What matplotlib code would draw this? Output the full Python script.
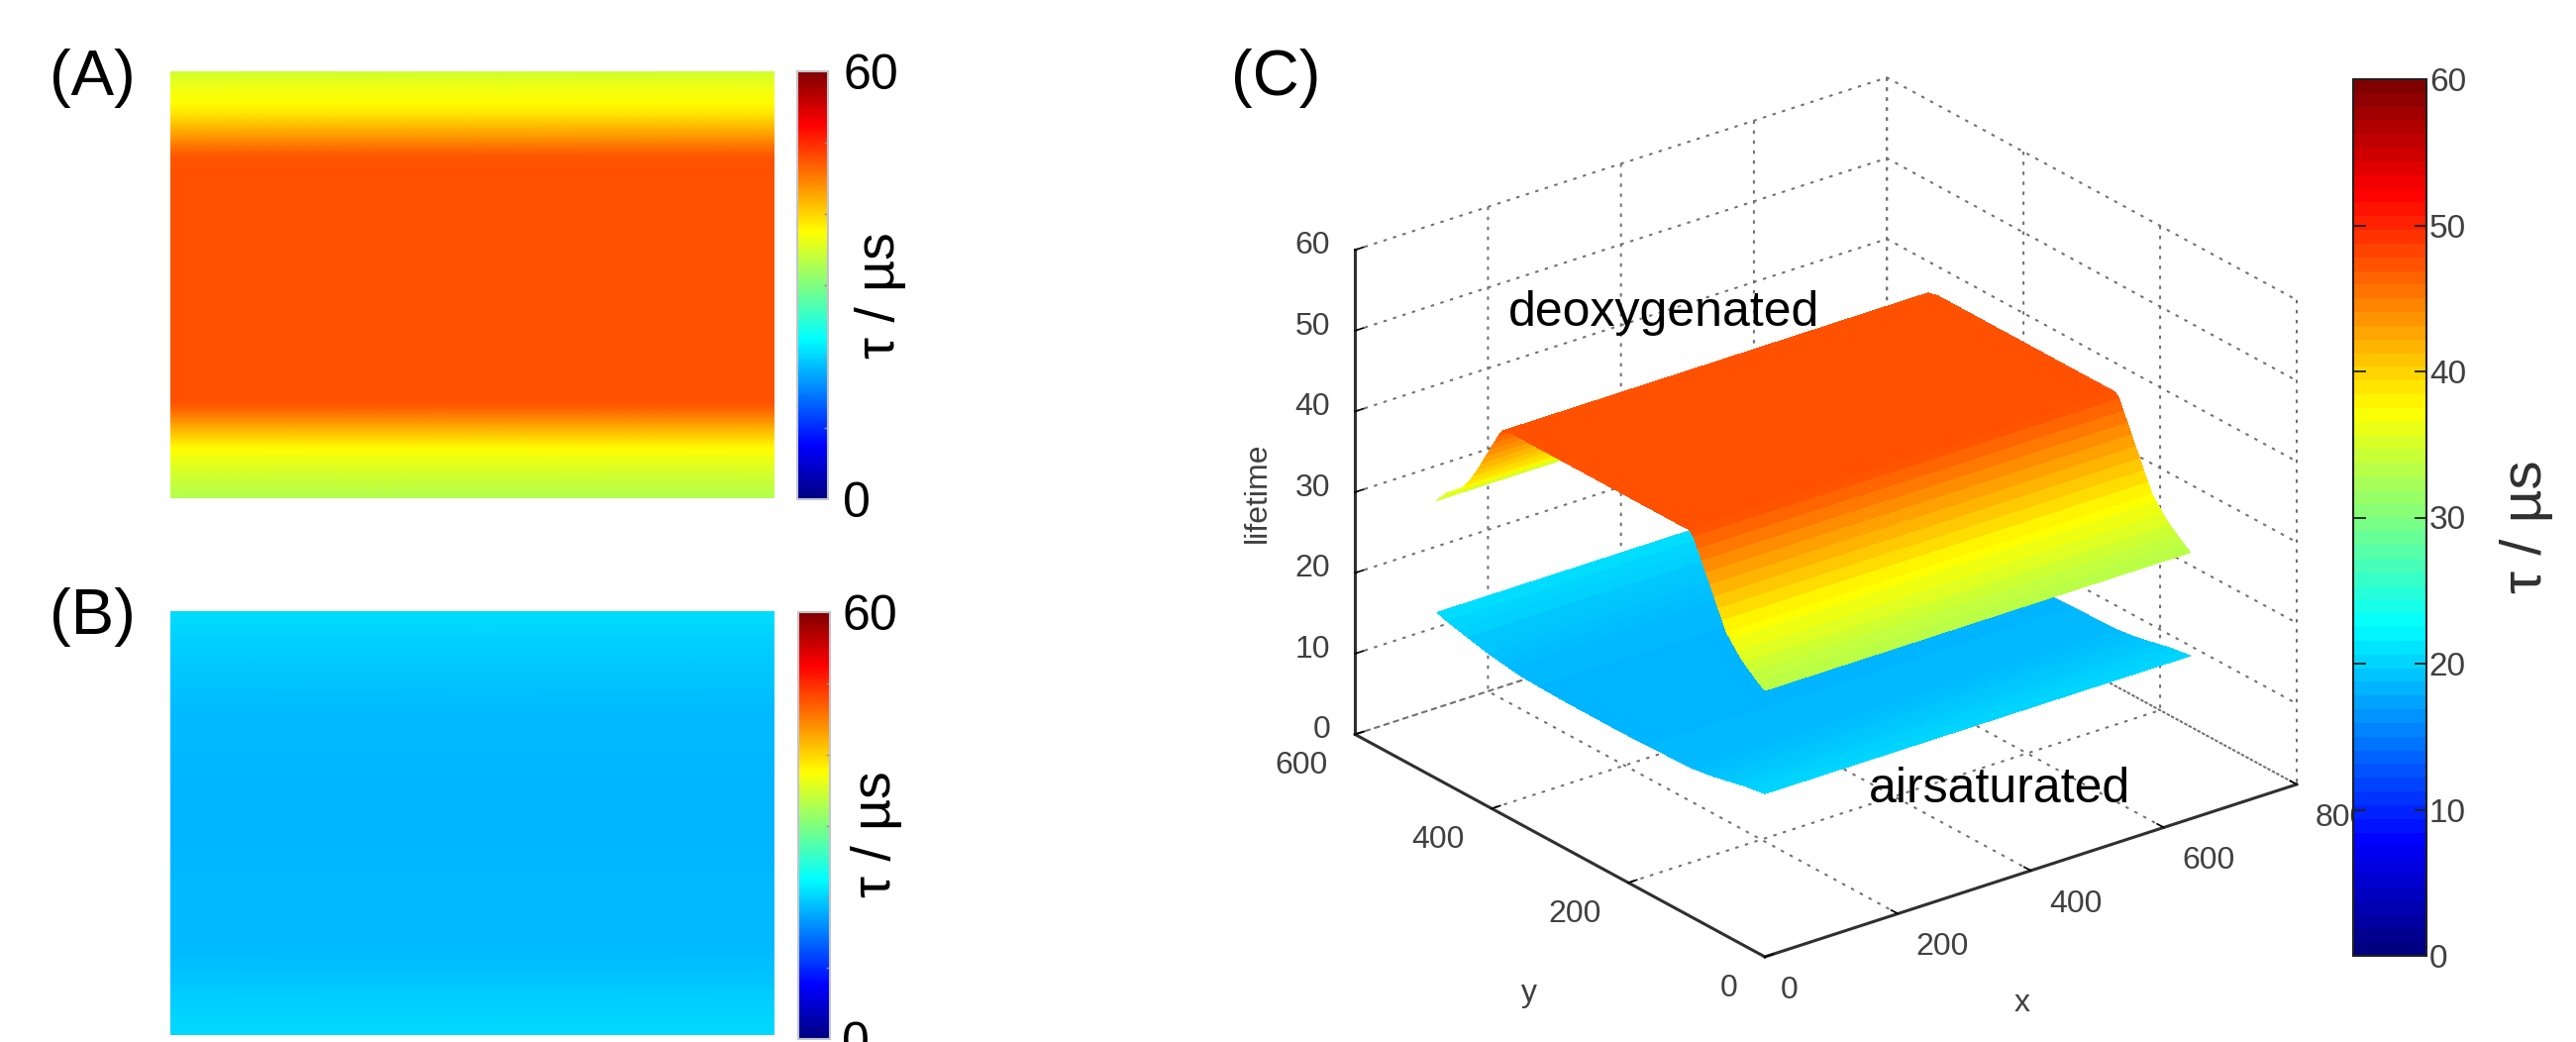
"""Lifetime maps (A, B) and 3D lifetime surface (C) with jet colour bars."""
import numpy as np
import matplotlib
matplotlib.use("Agg")
import matplotlib.pyplot as plt
from matplotlib.cm import ScalarMappable
from matplotlib.colors import LinearSegmentedColormap, Normalize
from mpl_toolkits.mplot3d import proj3d

W, H = 2601, 1052
TAU_MIN, TAU_MAX = 0, 60

# image columns (pixels) and the profile read along the image rows
image_x = [0, 640]
deoxy_y = [0, 10, 20, 30, 40, 50, 56, 62, 68, 74, 80, 86, 92, 98, 104, 110, 140, 200, 260,
           320, 370, 384, 390, 396, 402, 408, 414, 420, 426, 432, 438, 445, 455, 465, 480]
deoxy_tau = [33.0, 33.6, 34.3, 35.0, 35.9, 37.0, 37.6, 38.8, 40.0, 41.2, 42.4, 43.6, 44.8, 46.0, 47.2, 47.8, 47.8, 47.8, 47.8,
             47.8, 47.8, 47.5, 46.6, 45.5, 44.4, 43.3, 42.2, 41.1, 40.1, 39.1, 38.3, 37.5, 36.8, 36.1, 34.5]
air_y = [0, 15, 30, 45, 60, 75, 90, 105, 130, 170, 210, 250, 290, 330, 360, 375, 390, 405, 420, 435, 450, 465, 480]
air_tau = [20.2, 20.0, 19.8, 19.5, 19.2, 18.9, 18.7, 18.5, 18.4, 18.3, 18.2, 18.2, 18.2, 18.3, 18.4, 18.6, 18.8, 19.0, 19.3, 19.6, 19.9, 20.2, 20.6]

x_ticks = [0, 200, 400, 600, 800]
y_ticks = [0, 200, 400, 600]
z_ticks = [0, 10, 20, 30, 40, 50, 60]
bar_ticks = [0, 10, 20, 30, 40, 50, 60]

plt.rcParams["font.family"] = ["Liberation Sans", "DejaVu Sans"]
GREY = "#404040"
DOTS = (0, (1.7, 3.3))

# MATLAB flavour of jet, its knots differ a little from matplotlib's
jet_knots = [(0, (0, 0, 0.5)), (0.125, (0, 0, 1)), (0.375, (0, 1, 1)),
             (0.625, (1, 1, 0)), (0.875, (1, 0, 0)), (1, (0.5, 0, 0))]
jet = LinearSegmentedColormap.from_list("mjet", jet_knots, N=256)
jet64 = LinearSegmentedColormap.from_list("mjet64", jet_knots, N=64)
norm = Normalize(TAU_MIN, TAU_MAX)


def px_axes(fig, left, top, right, bottom, **kw):
    return fig.add_axes([left / W, 1 - bottom / H, (right - left) / W, (bottom - top) / H], **kw)


def px_text(fig, x, y, s, **kw):
    return fig.text(x / W, 1 - y / H, s, **kw)


def draw_map(fig, box, ys, taus):
    ax = px_axes(fig, *box)
    grid = np.tile(np.array(taus)[:, None], (1, len(image_x)))
    ax.pcolormesh(image_x, ys, grid, cmap=jet, norm=norm, shading="gouraud")
    ax.set_xlim(image_x[0], image_x[-1])
    ax.set_ylim(ys[0], ys[-1])
    ax.axis("off")
    return ax


def small_bar(fig, box, pad):
    cax = px_axes(fig, *box)
    cb = fig.colorbar(ScalarMappable(norm=norm, cmap=jet), cax=cax)
    cb.set_ticks([0, 60])
    cb.set_ticks(bar_ticks[1:-1], minor=True)
    cb.outline.set_edgecolor("#c4c4cc")
    cb.outline.set_linewidth(1.5)
    cax.tick_params(which="major", direction="in", length=0, pad=pad, labelsize=36)
    cax.tick_params(which="minor", direction="in", length=3, width=1, color="#909090")


fig = plt.figure(figsize=(W / 100, H / 100), dpi=100, facecolor="white")

draw_map(fig, (172, 72, 782, 503), deoxy_y, deoxy_tau)
draw_map(fig, (172, 617, 782, 1045), air_y, air_tau)
small_bar(fig, (805, 72, 836, 504), 11)
small_bar(fig, (806, 618, 838, 1049), 9)

px_text(fig, 50, 79, "(A)", fontsize=47, ha="left", va="center")
px_text(fig, 50, 623, "(B)", fontsize=47, ha="left", va="center")
px_text(fig, 1243, 79, "(C)", fontsize=47, ha="left", va="center")
px_text(fig, 889, 298, "τ / µs", fontsize=40, rotation=90, ha="center", va="center")
px_text(fig, 885, 842, "τ / µs", fontsize=40, rotation=90, ha="center", va="center")

# 3D panel
ax3 = fig.add_axes([0.5, 0.1, 0.3, 0.3], projection="3d", computed_zorder=False, zorder=1)
ax3.patch.set_alpha(0)
ax3.set_proj_type("ortho")
ax3.view_init(elev=24.8, azim=-127.7)
ax3.set_box_aspect((679, 677, 539))

for ys, taus, order in ((air_y, air_tau, 2), (deoxy_y, deoxy_tau, 3)):
    X, Y = np.meshgrid(image_x, ys)
    Z = np.tile(np.array(taus)[:, None], (1, len(image_x)))
    ax3.plot_surface(X, Y, Z, cmap=jet, norm=norm, rstride=1, cstride=1,
                     linewidth=0, antialiased=False, shade=False, zorder=order)

ax3.set_xlim(0, 800)
ax3.set_ylim(0, 600)
ax3.set_zlim(0, 60)
ax3.set_xticks(x_ticks)
ax3.set_yticks(y_ticks)
ax3.set_zticks(z_ticks)
ax3.set_xticklabels([])
ax3.set_yticklabels([])
ax3.set_zticklabels([])

for axis in (ax3.xaxis, ax3.yaxis, ax3.zaxis):
    axis.set_pane_color((1, 1, 1, 0))
    axis.pane.set_edgecolor("#707070")
    axis.pane.set_linestyle(DOTS)
    axis.pane.set_linewidth(1.45)
    axis.line.set_color("#303030")
    axis.line.set_linewidth(2.2)
    axis._axinfo["grid"].update(color="#707070", linestyle=DOTS, linewidth=1.45)
    axis._axinfo["tick"].update(inward_factor=0.0, outward_factor=0.2, color="#404040", linewidth={True: 1.2, False: 1.0})

# place the 3D box so its front corner and right corner land on the reference
front_px = np.array([1782.0, 966.0])
right_px = np.array([2319.0, 792.0])


def project_px(x, y, z):
    u, v, _w = proj3d.proj_transform(x, y, z, ax3.get_proj())
    dx, dy = ax3.transData.transform((u, v))
    return dx, H - dy


left, bottom, size = 1100.0, 0.0, 1400.0
for _ in range(4):
    ax3.set_position([left / W, bottom / H, size / W, size / H])
    ax3.apply_aspect()
    x0, _y0 = project_px(0, 0, 0)
    x1, _y1 = project_px(800, 0, 0)
    size *= (right_px[0] - front_px[0]) / (x1 - x0)
    ax3.set_position([left / W, bottom / H, size / W, size / H])
    ax3.apply_aspect()
    x0, y0 = project_px(0, 0, 0)
    left += front_px[0] - x0
    bottom += y0 - front_px[1]
ax3.set_position([left / W, bottom / H, size / W, size / H])
ax3.apply_aspect()

# tick labels sit at a fixed pixel offset from their ticks
label_kw = dict(fontsize=23, color=GREY, ha="center", va="center", zorder=2)
for v in x_ticks:
    px, py = project_px(v, 0, 0)
    px_text(fig, px + (25 if v == 0 else 45), py + 34, str(v), **label_kw)
for v in y_ticks:
    px, py = project_px(0, v, 0)
    px_text(fig, px - (36 if v == 0 else 54), py + 32, str(v), **label_kw)
for v in z_ticks:
    px, py = project_px(0, 600, v)
    px_text(fig, 1343, py - 4, str(v), fontsize=23, color=GREY, ha="right", va="center", zorder=2)
px_text(fig, 2042, 1013, "x", **label_kw)
px_text(fig, 1544, 1003, "y", **label_kw)
px_text(fig, 1270, 497, "lifetime", rotation=90, **label_kw)

px_text(fig, 1523, 329, "deoxygenated", fontsize=36, ha="left", va="baseline", zorder=5)
px_text(fig, 1887, 810, "airsaturated", fontsize=36, ha="left", va="baseline", zorder=5)

# large colour bar, drawn over the clipped 800 label
cax3 = px_axes(fig, 2376, 80, 2450, 965, zorder=4)
cb3 = fig.colorbar(ScalarMappable(norm=norm, cmap=jet64), cax=cax3)
cb3.set_ticks(bar_ticks)
cb3.outline.set_edgecolor("#202020")
cb3.outline.set_linewidth(1.5)
cax3.yaxis.set_ticks_position("both")
cax3.tick_params(direction="in", length=9, width=1.3, color="#202020", labelcolor=GREY,
                 labelsize=24, pad=2, labelleft=False, labelright=True)
px_text(fig, 2551, 532, "τ / µs", fontsize=42, rotation=90, ha="center", va="center", color="#303030")

fig.savefig("out.png", dpi=100)
